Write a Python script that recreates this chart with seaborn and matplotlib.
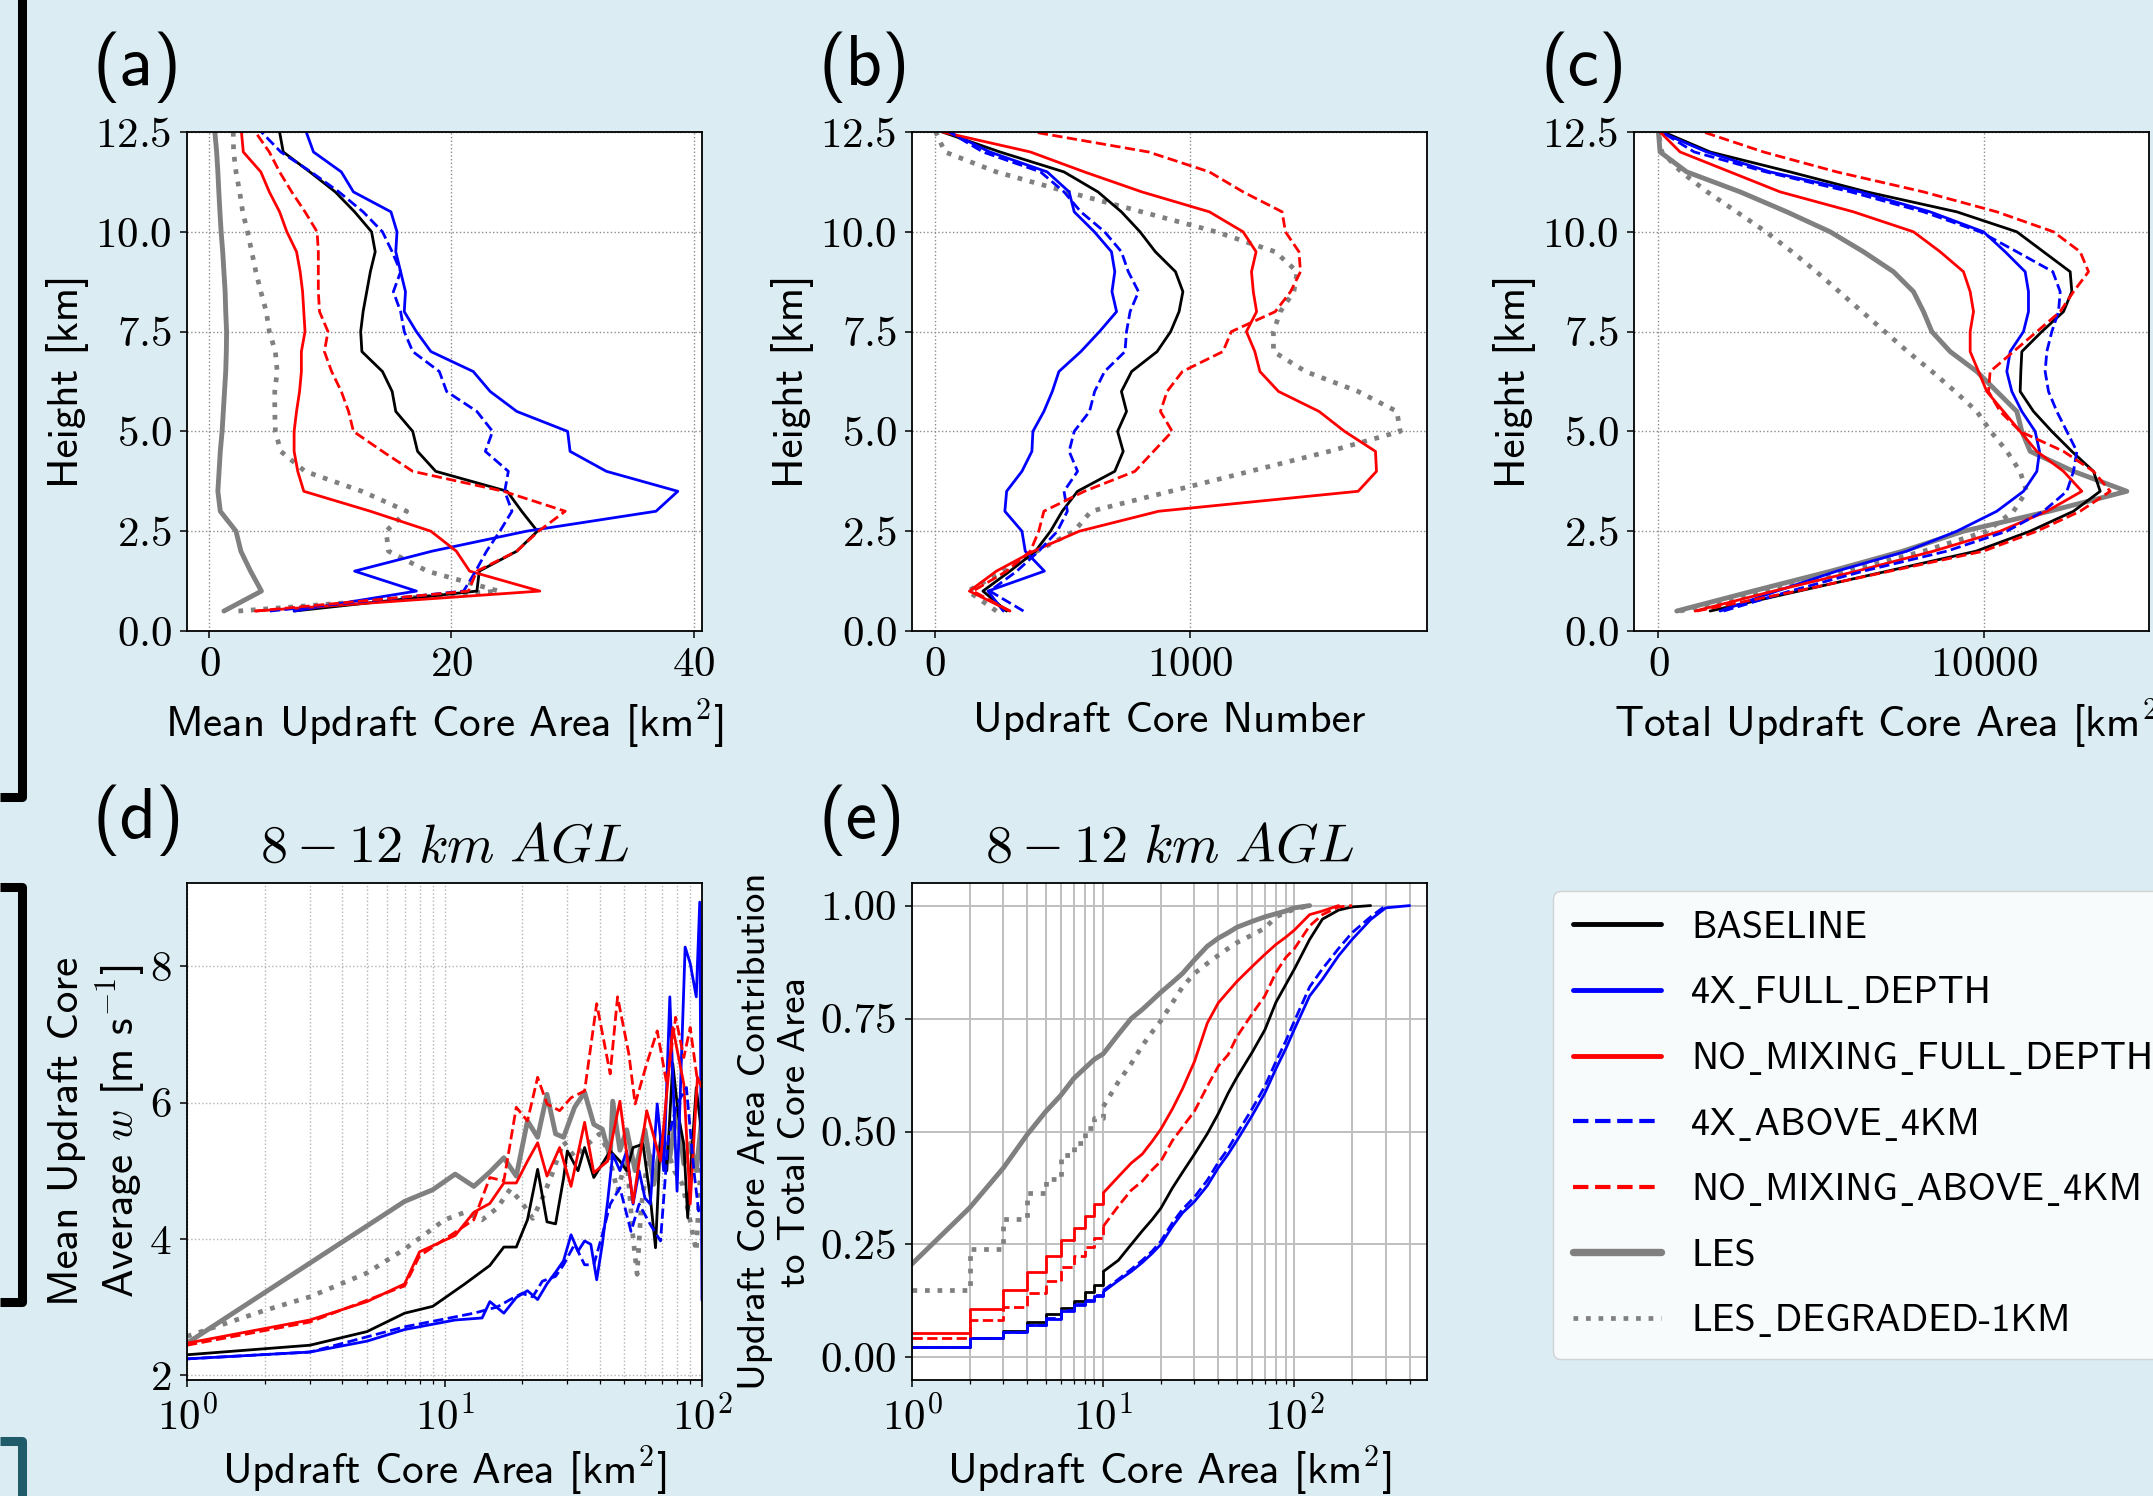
import seaborn as sns
import matplotlib.pyplot as plt
from matplotlib.lines import Line2D
from matplotlib.ticker import MultipleLocator, FormatStrFormatter

# ---- data ----
heights = [0.5, 1.0, 1.5, 2.0, 2.5, 3.0, 3.5, 4.0, 4.5, 5.0, 5.5, 6.0, 6.5,
           7.0, 7.5, 8.0, 8.5, 9.0, 9.5, 10.0, 10.5, 11.0, 11.5, 12.0, 12.5]

# (a) mean updraft core area [km2]
a_baseline = [7.0, 22.1, 22.3, 25.4, 27.1, 25.8, 24.6, 18.7, 17.2, 16.8, 15.4, 15.1, 14.3,
              12.6, 12.5, 12.7, 13.0, 13.3, 13.7, 13.4, 12.0, 10.4, 8.3, 6.1, 5.8]
a_4x_full = [7.0, 17.1, 12.0, 18.4, 26.2, 36.9, 38.7, 32.8, 29.8, 29.6, 25.4, 23.2, 21.8,
             18.3, 17.1, 16.1, 16.2, 15.8, 15.4, 15.5, 15.0, 11.9, 10.9, 8.6, 8.0]
a_nomix_full = [3.8, 27.3, 21.5, 20.4, 18.3, 13.3, 7.8, 7.3, 7.0, 7.0, 7.2, 7.45, 7.6,
                7.6, 7.9, 7.8, 7.7, 7.5, 7.2, 6.4, 5.8, 4.95, 4.25, 2.8, 2.65]
a_4x_above = [5.0, 21.0, 22.0, 22.9, 24.0, 25.0, 24.4, 24.7, 22.8, 23.4, 22.1, 19.6, 19.0,
              16.8, 16.1, 15.8, 15.2, 15.8, 15.1, 14.3, 12.7, 10.7, 8.4, 5.9, 4.3]
a_nomix_above = [3.8, 21.4, 22.1, 25.4, 27.2, 29.4, 24.3, 16.8, 14.3, 11.9, 11.5, 10.9, 10.1,
                 9.5, 9.8, 9.1, 9.0, 9.0, 9.0, 8.9, 7.9, 6.8, 5.8, 4.95, 3.8]
a_les = [1.2, 4.3, 3.4, 2.6, 2.2, 0.9, 0.7, 0.8, 0.9, 1.05, 1.15, 1.25, 1.35,
         1.4, 1.42, 1.35, 1.3, 1.2, 1.1, 0.97, 0.87, 0.78, 0.7, 0.6, 0.45]
a_les_deg = [2.4, 23.9, 18.0, 14.8, 14.6, 16.3, 12.6, 7.9, 5.9, 5.45, 5.4, 5.4, 5.6,
             5.45, 4.95, 4.7, 4.25, 3.84, 3.5, 3.15, 2.75, 2.5, 2.2, 2.0, 1.97]

# (b) updraft core number
b_baseline = [282, 189, 295, 395, 454, 500, 560, 706, 739, 717, 752, 732, 772,
              872, 925, 958, 973, 944, 865, 805, 732, 640, 507, 256, 30]
b_4x_full = [269, 209, 430, 355, 342, 275, 282, 342, 381, 385, 428, 461, 487,
             573, 646, 713, 695, 706, 693, 626, 547, 527, 441, 216, 57]
b_nomix_full = [295, 136, 242, 388, 567, 878, 1660, 1732, 1728, 1607, 1507, 1348, 1275,
                1255, 1222, 1262, 1249, 1242, 1260, 1209, 1077, 812, 587, 375, 30]
b_4x_above = [348, 216, 322, 408, 481, 520, 507, 560, 527, 547, 607, 627, 666,
              746, 752, 766, 799, 759, 732, 666, 573, 507, 415, 189, 57]
b_nomix_above = [295, 150, 282, 375, 408, 428, 587, 785, 858, 931, 885, 911, 971,
                 1130, 1163, 1335, 1395, 1434, 1428, 1375, 1362, 1209, 1077, 838, 388]
b_les_deg = [242, 130, 269, 401, 547, 613, 925, 1236, 1547, 1825, 1812, 1660, 1454,
             1328, 1328, 1355, 1408, 1421, 1335, 1103, 812, 520, 242, 40, 4]

# (c) total updraft core area [km2]
c_baseline = [1586, 4309, 7031, 9754, 11412, 12742, 13561, 13356, 12691, 12077, 11514, 11105, 11125,
              11156, 11770, 12435, 12691, 12640, 11821, 11002, 9160, 6397, 4043, 1586, 153]
c_4x_full = [1893, 3633, 5476, 7625, 9160, 10388, 11207, 11617, 11699, 11565, 11156, 10849, 10695,
             10798, 11207, 11360, 11360, 11258, 10644, 9979, 8341, 6192, 3429, 1484, 51]
c_nomix_full = [1126, 3531, 6090, 8444, 10491, 11924, 12998, 12436, 11617, 11105, 10593, 10081, 9826,
                9570, 9570, 9672, 9570, 9365, 8649, 7830, 5988, 3736, 2200, 665, 51]
c_4x_above = [1996, 4043, 6294, 8853, 10695, 11821, 12538, 12742, 12845, 12538, 12230, 11975, 11872,
              11923, 12077, 12282, 12333, 12108, 11003, 9877, 8137, 5900, 3300, 1100, 100]
c_nomix_above = [1177, 4248, 7113, 9979, 11617, 12947, 13869, 13356, 12435, 11105, 10491, 10132, 10183,
                 10900, 11617, 12333, 12742, 13203, 12947, 12128, 10388, 8137, 5476, 3224, 1382]
c_les = [563, 2900, 5300, 7500, 9365, 12000, 14380, 12742, 11412, 11156, 11003, 10388, 9775,
         8955, 8393, 8137, 7830, 7216, 6294, 5271, 3940, 2508, 870, 51, 0]
c_les_deg = [665, 3224, 5783, 8137, 10081, 10900, 11300, 11100, 10700, 10200, 9775, 9109, 8400,
             7650, 6950, 6250, 5550, 4850, 4100, 3300, 2400, 1500, 700, 102, 0]

# (d) mean updraft core w vs core area, 8-12 km
d_base_x = [1, 3, 5, 7, 9, 12, 15, 17, 19, 21, 23, 25, 27, 29, 30, 33, 35, 38, 41, 44, 48, 51,
            54, 59, 63, 66, 69, 73, 77, 81, 85, 88, 91, 95, 100]
d_base_y = [2.30, 2.44, 2.64, 2.91, 3.01, 3.34, 3.61, 3.88, 3.88, 4.28, 5.02, 4.25, 4.22, 4.89,
            5.29, 5.0, 5.34, 4.90, 5.1, 5.29, 5.14, 5.0, 5.34, 5.39, 4.6, 3.87, 5.49, 5.0, 6.57,
            5.8, 5.39, 4.31, 5.2, 6.22, 5.49]
d_4xf_x = [1, 3, 5, 7, 11, 14, 15, 17, 19, 21, 23, 25, 27, 29, 31, 33, 35, 37, 39, 41, 43, 45,
           48, 51, 54, 57, 60, 63, 67, 71, 75, 80, 86, 90, 95, 98, 100]
d_4xf_y = [2.24, 2.34, 2.50, 2.67, 2.81, 2.84, 3.08, 2.91, 3.14, 3.24, 3.11, 3.34, 3.51, 3.68,
           4.06, 3.82, 3.97, 3.92, 3.40, 3.92, 4.55, 5.24, 5.0, 5.29, 4.51, 5.0, 4.6, 4.51, 5.98,
           5.0, 7.55, 4.70, 8.28, 8.04, 7.55, 8.94, 3.1]
d_nmf_x = [1, 3, 5, 7, 8, 11, 13, 15, 17, 19, 21, 23, 25, 28, 31, 35, 38, 43, 48, 54, 61, 69,
           77, 85, 90, 96, 100]
d_nmf_y = [2.47, 2.81, 3.08, 3.34, 3.81, 4.05, 4.39, 4.52, 4.82, 4.82, 5.14, 5.41, 4.92, 5.34,
           4.77, 5.71, 4.97, 5.14, 6.02, 4.53, 5.88, 5.14, 7.10, 6.27, 4.51, 6.37, 6.22]
d_4xa_x = [1, 3, 7, 13, 16, 18, 20, 22, 24, 27, 29, 32, 35, 38, 41, 44, 48, 53, 57, 63, 69, 74,
           80, 87, 93, 97, 100]
d_4xa_y = [2.24, 2.34, 2.71, 2.91, 3.0, 3.11, 3.2, 3.15, 3.38, 3.45, 3.62, 3.92, 3.62, 3.62,
           4.06, 4.51, 4.75, 4.11, 4.51, 4.21, 3.97, 5.49, 5.98, 6.22, 5.0, 4.41, 4.5]
d_nma_x = [1, 3, 7, 8, 13, 15, 17, 19, 21, 23, 25, 28, 31, 35, 39, 44, 47, 52, 55, 61, 67, 73,
           79, 85, 90, 96, 100]
d_nma_y = [2.44, 2.78, 3.31, 3.75, 4.28, 4.90, 4.85, 5.93, 5.73, 6.37, 5.98, 5.88, 6.07, 6.17,
           7.45, 6.42, 7.55, 6.71, 5.98, 6.57, 7.05, 6.27, 7.25, 6.66, 7.10, 6.32, 6.27]
d_les_x = [1, 7, 9, 11, 13, 15, 17, 19, 21, 23, 25, 27, 29, 32, 35, 38, 41, 44, 45, 48, 51,
           55, 60, 65, 70, 75, 80, 85, 90, 95, 100]
d_les_y = [2.47, 4.55, 4.72, 4.95, 4.77, 4.98, 5.19, 4.92, 5.73, 5.49, 6.12, 5.54, 5.49, 5.93,
           6.15, 5.68, 5.61, 5.19, 6.02, 5.3, 5.6, 5.0, 5.6, 4.8, 5.5, 5.2, 5.9, 5.1, 5.4, 5.0, 5.8]
d_lesd_x = [1, 2, 3, 5, 7, 9, 10, 12, 14, 16, 18, 20, 22, 24, 26, 29, 32, 36, 40, 43, 47, 51,
            54, 56, 58, 62, 67, 72, 78, 84, 90, 95, 100]
d_lesd_y = [2.57, 2.95, 3.15, 3.5, 3.85, 4.15, 4.28, 4.39, 4.28, 4.45, 4.73, 4.53, 4.3, 4.6,
            4.92, 5.43, 5.2, 5.39, 5.54, 5.3, 4.7, 5.2, 4.01, 3.48, 4.46, 5.24, 5.1, 5.4, 5.0,
            4.8, 4.26, 3.82, 5.49]

# (e) cumulative contribution to total core area, 8-12 km
e_x = [1, 2, 3, 4, 5, 6, 7, 8, 9, 10, 12, 14, 16, 18, 20, 23, 26, 30, 35, 40, 45, 50,
       60, 70, 80, 90, 100, 120, 140, 170, 200, 250, 300, 400]
e_baseline = [0.022, 0.042, 0.058, 0.078, 0.097, 0.110, 0.125, 0.145, 0.160, 0.190, 0.215,
              0.250, 0.280, 0.305, 0.330, 0.375, 0.410, 0.450, 0.495, 0.540, 0.585, 0.620,
              0.675, 0.725, 0.786, 0.825, 0.860, 0.925, 0.970, 0.990, 0.997, 1.0]
e_4x_full = [0.022, 0.042, 0.056, 0.071, 0.086, 0.103, 0.115, 0.125, 0.135, 0.145, 0.170,
             0.190, 0.210, 0.230, 0.250, 0.290, 0.320, 0.345, 0.380, 0.420, 0.450, 0.480,
             0.535, 0.585, 0.639, 0.683, 0.727, 0.800, 0.837, 0.889, 0.925, 0.969, 0.995, 1.0]
e_nomix_full = [0.054, 0.108, 0.150, 0.188, 0.225, 0.260, 0.287, 0.313, 0.339, 0.364, 0.400,
                0.430, 0.450, 0.478, 0.505, 0.550, 0.595, 0.655, 0.740, 0.785, 0.810, 0.832,
                0.865, 0.892, 0.914, 0.930, 0.946, 0.980, 0.988, 1.0]
e_4x_above = [0.022, 0.042, 0.056, 0.072, 0.088, 0.105, 0.118, 0.128, 0.138, 0.148, 0.173,
              0.195, 0.215, 0.235, 0.257, 0.298, 0.328, 0.355, 0.392, 0.432, 0.462, 0.495,
              0.550, 0.600, 0.655, 0.700, 0.745, 0.820, 0.860, 0.905, 0.940, 0.975, 1.0]
e_nomix_above = [0.042, 0.082, 0.111, 0.142, 0.170, 0.199, 0.225, 0.245, 0.265, 0.290, 0.335,
                 0.370, 0.390, 0.415, 0.434, 0.480, 0.510, 0.545, 0.600, 0.645, 0.670, 0.710,
                 0.760, 0.800, 0.852, 0.885, 0.905, 0.955, 0.980, 0.997, 1.0]
e_les = [0.207, 0.331, 0.419, 0.493, 0.544, 0.580, 0.617, 0.640, 0.660, 0.672, 0.715, 0.750,
         0.770, 0.790, 0.808, 0.830, 0.850, 0.880, 0.910, 0.928, 0.940, 0.952, 0.965, 0.975,
         0.982, 0.988, 0.995, 1.0]
e_les_deg = [0.150, 0.240, 0.306, 0.364, 0.394, 0.449, 0.474, 0.507, 0.530, 0.555, 0.610,
             0.650, 0.690, 0.720, 0.745, 0.785, 0.820, 0.850, 0.872, 0.890, 0.905, 0.918,
             0.935, 0.950, 0.975, 0.985, 0.992, 1.0]

names = ["BASELINE", "4X_FULL_DEPTH", "NO_MIXING_FULL_DEPTH", "4X_ABOVE_4KM",
         "NO_MIXING_ABOVE_4KM", "LES", "LES_DEGRADED-1KM"]
colors = ["black", "blue", "red", "blue", "red", "grey", "grey"]
linestyles = ["-", "-", "-", "--", "--", "-", ":"]
widths = [2.0, 2.0, 2.0, 2.0, 2.0, 3.5, 3.4]

# ---- style ----
sns.set_style("ticks")
plt.rcParams.update({
    "font.family": "serif",
    "font.serif": ["cmr10"],
    "mathtext.fontset": "cm",
    "axes.formatter.use_mathtext": True,
    "axes.unicode_minus": False,
    "text.color": "black",
    "axes.labelcolor": "black",
    "axes.edgecolor": "black",
    "axes.linewidth": 1.3,
    "xtick.color": "black",
    "ytick.color": "black",
})

BG = "#dbecf2"
W, H = 2153, 1496
fig = plt.figure(figsize=(W / 100, H / 100), dpi=100, facecolor=BG)


def rect(x0, x1, y0, y1):
    return [x0 / W, 1 - y1 / H, (x1 - x0) / W, (y1 - y0) / H]


ax_a = fig.add_axes(rect(187, 702, 132, 631))
ax_b = fig.add_axes(rect(912, 1427, 132, 631))
ax_c = fig.add_axes(rect(1634, 2149, 132, 631))
ax_d = fig.add_axes(rect(187, 702, 883, 1380))
ax_e = fig.add_axes(rect(912, 1427, 883, 1380))

LABEL = dict(fontfamily="cmss10", fontsize=31)


def draw(ax, x, y, i, **kw):
    sns.lineplot(x=x, y=y, sort=False, estimator=None, ax=ax, color=colors[i],
                 linestyle=linestyles[i], linewidth=widths[i], legend=False, **kw)


# profiles
order = [5, 6, 0, 1, 2, 3, 4]
prof = {
    ax_a: [a_baseline, a_4x_full, a_nomix_full, a_4x_above, a_nomix_above, a_les, a_les_deg],
    ax_b: [b_baseline, b_4x_full, b_nomix_full, b_4x_above, b_nomix_above, None, b_les_deg],
    ax_c: [c_baseline, c_4x_full, c_nomix_full, c_4x_above, c_nomix_above, c_les, c_les_deg],
}
for ax, series in prof.items():
    for i in order:
        if series[i] is not None:
            draw(ax, series[i], heights, i)
    ax.set_ylim(0, 12.5)
    ax.yaxis.set_major_locator(MultipleLocator(2.5))
    ax.grid(True, ls=":", color="0.55", lw=1.0)
    ax.set_ylabel("Height [km]", **LABEL)
    ax.yaxis.set_label_coords(-0.19, 0.5)

ax_a.set_xlim(-1.85, 40.7)
ax_a.xaxis.set_major_locator(MultipleLocator(20))
ax_b.set_xlim(-89, 1930)
ax_b.xaxis.set_major_locator(MultipleLocator(1000))
ax_c.set_xlim(-750, 15060)
ax_c.xaxis.set_major_locator(MultipleLocator(10000))
ax_a.set_xlabel(r"Mean Updraft Core Area [km$^2$]", **LABEL)
ax_b.set_xlabel("Updraft Core Number", **LABEL)
ax_c.set_xlabel(r"Total Updraft Core Area [km$^2$]", **LABEL)
ax_a.xaxis.set_label_coords(0.5, -0.133)
ax_b.xaxis.set_label_coords(0.5, -0.142)
ax_c.xaxis.set_label_coords(0.5, -0.133)

# (d)
d_series = [(d_base_x, d_base_y), (d_4xf_x, d_4xf_y), (d_nmf_x, d_nmf_y), (d_4xa_x, d_4xa_y),
            (d_nma_x, d_nma_y), (d_les_x, d_les_y), (d_lesd_x, d_lesd_y)]
for i in order:
    draw(ax_d, d_series[i][0], d_series[i][1], i)
ax_d.set_xscale("log")
ax_d.set_xlim(1, 100)
ax_d.set_ylim(1.93, 9.22)
ax_d.yaxis.set_major_locator(MultipleLocator(2))
ax_d.grid(True, which="both", ls=":", color="0.7", lw=1.0)
ax_d.set_ylabel("Mean Updraft Core\nAverage $w$ [m s$^{-1}$]", **LABEL)
ax_d.yaxis.set_label_coords(-0.076, 0.5)

# (e): integer-bin steps for the small cores, then the read points joined
e_series = [e_baseline, e_4x_full, e_nomix_full, e_4x_above, e_nomix_above, e_les, e_les_deg]
for i in order:
    ys = e_series[i]
    xs = e_x[:len(ys)]
    if names[i] == "LES":
        draw(ax_e, xs, ys, i)
    else:
        k = xs.index(10)
        draw(ax_e, xs[:k + 1], ys[:k + 1], i, drawstyle="steps-post")
        draw(ax_e, xs[k:], ys[k:], i)
ax_e.set_xscale("log")
ax_e.set_xlim(1, 493)
ax_e.set_ylim(-0.05, 1.05)
ax_e.yaxis.set_major_locator(MultipleLocator(0.25))
ax_e.yaxis.set_major_formatter(FormatStrFormatter("%.2f"))
ax_e.grid(True, which="both", ls="-", color="0.75", lw=1.4)
ax_e.set_ylabel("Updraft Core Area Contribution\nto Total Core Area",
                fontfamily="cmss10", fontsize=28)
ax_e.yaxis.set_label_coords(-0.192, 0.5)

for ax in (ax_d, ax_e):
    ax.set_title(r"$8-12\ km\ AGL$", fontsize=39, pad=15)
    ax.set_xlabel(r"Updraft Core Area [km$^2$]", **LABEL)
    ax.xaxis.set_label_coords(0.5, -0.129)

for ax in (ax_a, ax_b, ax_c, ax_d, ax_e):
    ax.set_facecolor("white")
    ax.tick_params(which="major", labelsize=31, length=5, width=1.1, pad=6)
    ax.tick_params(which="minor", length=3, width=0.9)
    for s in ax.spines.values():
        s.set_visible(True)

# panel letters
for txt, px, py in [("(a)", 93, 85), ("(b)", 818, 85), ("(c)", 1540, 85),
                    ("(d)", 93, 838), ("(e)", 818, 838)]:
    fig.text(px / W, 1 - py / H, txt, fontfamily="cmss10", fontsize=51, va="baseline")

# legend: cmss10 has no real underscore, so a low line glyph falls back to DejaVu Sans
leg_labels = [n.replace("_", "\u02cd") for n in names]
leg_widths = [3.5, 3.5, 3.5, 3.0, 3.0, 5.3, 3.4]
handles = [Line2D([], [], color=colors[i], ls=linestyles[i], lw=leg_widths[i]) for i in range(7)]
fig.legend(handles, leg_labels, loc="upper left", bbox_to_anchor=(1553 / W, 1 - 891 / H),
           bbox_transform=fig.transFigure, borderaxespad=0, frameon=True,
           prop={"family": ["cmss10", "DejaVu Sans"], "size": 27.5}, handlelength=2.3,
           handletextpad=0.8, labelspacing=0.8, borderpad=0.52)


# poster brackets at the left edge
def bracket(xs, ys, color):
    fig.add_artist(Line2D([x / W for x in xs], [1 - y / H for y in ys], transform=fig.transFigure,
                          color=color, lw=6.5, solid_joinstyle="round", solid_capstyle="butt"))


bracket([0, 22, 22], [797, 797, -20], "black")
bracket([0, 22, 22, 0], [887, 887, 1302, 1302], "black")
bracket([0, 22, 22], [1441, 1441, 1520], "#1f5b69")

fig.savefig("out.png", dpi=100, facecolor=fig.get_facecolor())
